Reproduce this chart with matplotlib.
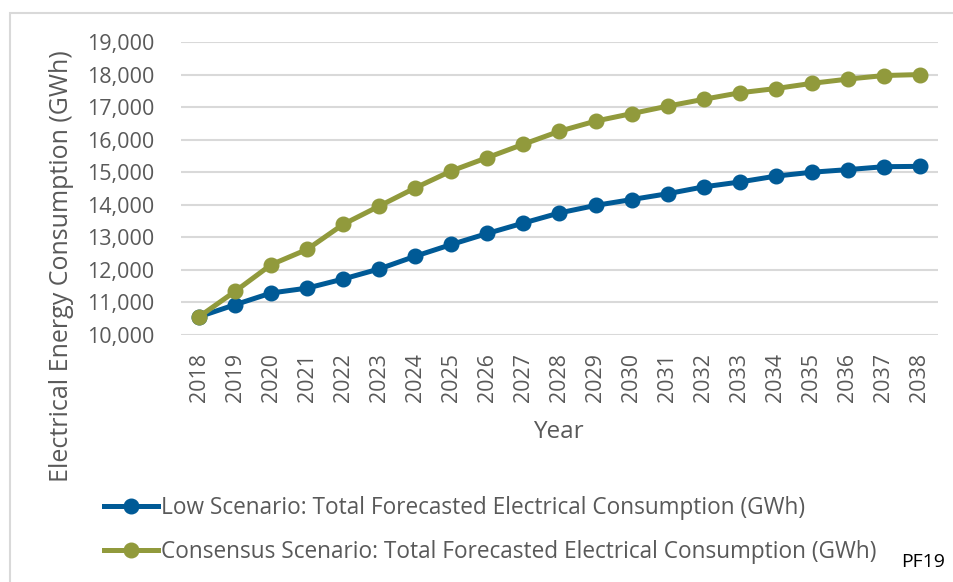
import matplotlib
matplotlib.use("Agg")
import matplotlib.pyplot as plt
from matplotlib.patches import Rectangle
from matplotlib.ticker import FuncFormatter, MultipleLocator

years = [str(y) for y in range(2018, 2039)]
low_scenario = [10560, 10930, 11290, 11440, 11720, 12030, 12420, 12780, 13120, 13440,
                13750, 13980, 14160, 14340, 14550, 14700, 14880, 15000, 15080, 15170, 15180]
consensus_scenario = [10560, 11340, 12160, 12630, 13400, 13960, 14520, 15040, 15450, 15860,
                      16260, 16570, 16800, 17030, 17240, 17440, 17570, 17730, 17860, 17970, 18000]
series_labels = ["Low Scenario: Total Forecasted Electrical Consumption (GWh)",
                 "Consensus Scenario: Total Forecasted Electrical Consumption (GWh)"]

plt.rcParams['font.family'] = ['Open Sans', 'DejaVu Sans']
text_color = "#595959"
blue = "#005A96"
olive = "#919A3C"

fig = plt.figure(figsize=(9.54, 5.82), dpi=100)
W, H = 954, 582
ax = fig.add_axes([181 / W, 1 - 335 / H, (938 - 181) / W, (335 - 42) / H])

x = list(range(len(years)))
ax.plot(x, low_scenario, color=blue, lw=3.6, marker='o', ms=10.5, label=series_labels[0], zorder=3)
ax.plot(x, consensus_scenario, color=olive, lw=3.6, marker='o', ms=10.5, label=series_labels[1], zorder=4)

ax.set_xlim(-0.5, len(years) - 0.5)
ax.set_ylim(10000, 19000)
ax.yaxis.set_major_locator(MultipleLocator(1000))
ax.yaxis.set_major_formatter(FuncFormatter(lambda v, p: f"{int(v):,}"))
ax.set_xticks(x)
ax.set_xticklabels(years, rotation=90)
ax.grid(axis='y', color="#D9D9D9", lw=1.5)
ax.set_axisbelow(True)
for s in ax.spines.values():
    s.set_visible(False)
ax.tick_params(axis='both', length=0, labelsize=15.5, colors=text_color)
ax.tick_params(axis='y', pad=19)
ax.tick_params(axis='x', pad=13)

fig.text(558 / W, 1 - 432 / H, "Year", ha='center', va='center', fontsize=17.5, color=text_color)
fig.text(62 / W, 1 - 266 / H, "Electrical Energy Consumption (GWh)", rotation=90,
         ha='center', va='center', fontsize=18, color=text_color)

leg = fig.legend(loc='upper left', bbox_to_anchor=(104 / W, 1 - 496 / H), frameon=False,
                 fontsize=16.3, handlelength=2.4, handletextpad=0.1, labelspacing=0.9,
                 borderaxespad=0, borderpad=0)
for t in leg.get_texts():
    t.set_color(text_color)

fig.text(945 / W, 1 - 562 / H, "PF19", ha='right', va='center', fontsize=14, color="#000000")

fig.patches.append(Rectangle((10 / W, -0.1), 1.2, 1 - 13 / H + 0.1, transform=fig.transFigure,
                             fill=False, edgecolor="#D9D9D9", lw=1.5))

fig.savefig("out.png", dpi=100, facecolor="white")
